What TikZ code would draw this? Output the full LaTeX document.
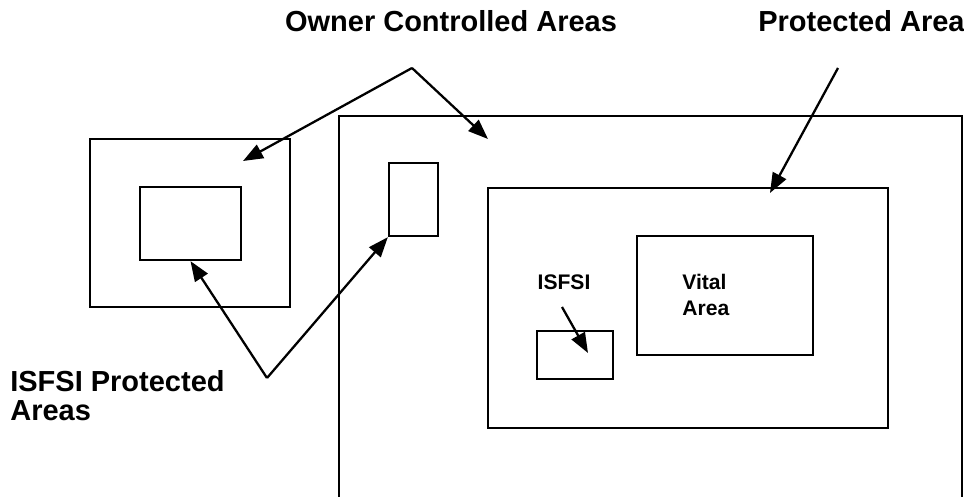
\documentclass[tikz,border=0pt]{standalone}
\usepackage{fontspec}
\setmainfont{Liberation Sans}
\usetikzlibrary{arrows.meta, positioning, calc}

\begin{document}
\begin{tikzpicture}[x=0.02cm, y=-0.02cm,
    areabox/.style={draw, line width=1.3pt, inner sep=0pt},
    pointer/.style={line width=1.3pt, -{Triangle[length=0.4cm, width=0.3cm]}},
    biglabel/.style={font=\bfseries\fontsize{16.5}{16.5}\selectfont, inner sep=0pt, align=left},
    smalllabel/.style={font=\bfseries\fontsize{12}{14.5}\selectfont, inner sep=0pt, align=left}]
  \useasboundingbox (0,0) rectangle (964,497);

  % left site
  \node[areabox, minimum width=4cm, minimum height=3.36cm] (leftowner) at (190,223) {};
  \node[areabox, minimum width=2.02cm, minimum height=1.46cm] (leftisfsi) at (190.5,223.5) {};

  % main site
  \coordinate (mainbl) at (339,497);
  \coordinate (maintl) at (339,116);
  \coordinate (maintr) at (962,116);
  \coordinate (mainbr) at (962,497);
  \draw[line width=1.3pt] (mainbl) -- (maintl) -- (maintr) -- (mainbr);
  \node[areabox, minimum width=0.98cm, minimum height=1.46cm] (smallisfsi) at (413.5,199.5) {};
  \node[areabox, minimum width=8cm, minimum height=4.8cm] (protected) at (688,308) {};
  \node[areabox, minimum width=3.52cm, minimum height=2.38cm] (vital) at (725,295.5) {};
  \node[areabox, minimum width=1.52cm, minimum height=0.96cm] (isfsi) at (575,355) {};

  % labels
  \node[biglabel] (ownerlabel) at (451,21) {Owner Controlled Areas};
  \node[biglabel, anchor=west] (protlabel) at (758,21) {Protected Area};
  \node[biglabel, anchor=west] (isfsiprotlabel) at (10,396) {ISFSI Protected\\Areas};
  \node[smalllabel] (isfsilabel) at (564,282) {ISFSI};
  \node[smalllabel, anchor=west] (vitallabel) at (682,295) {Vital\\Area};

  % pointers
  \coordinate (ownerapex) at (412,68);
  \coordinate (ownerleft) at (243,161);
  \coordinate (ownermain) at (488,139);
  \draw[pointer] (ownerapex) -- (ownerleft);
  \draw[pointer] (ownerapex) -- (ownermain);

  \coordinate (protstart) at (838,68);
  \coordinate (protend) at (770,193);
  \draw[pointer] (protstart) -- (protend);

  \coordinate (isfsiapex) at (267,378);
  \draw[pointer] (isfsiapex) -- (leftisfsi.south);
  \draw[pointer] (isfsiapex) -- (smallisfsi.south west);

  \coordinate (isfsistart) at (562,307);
  \coordinate (isfsiend) at (588,353);
  \draw[pointer] (isfsistart) -- (isfsiend);
\end{tikzpicture}
\end{document}
